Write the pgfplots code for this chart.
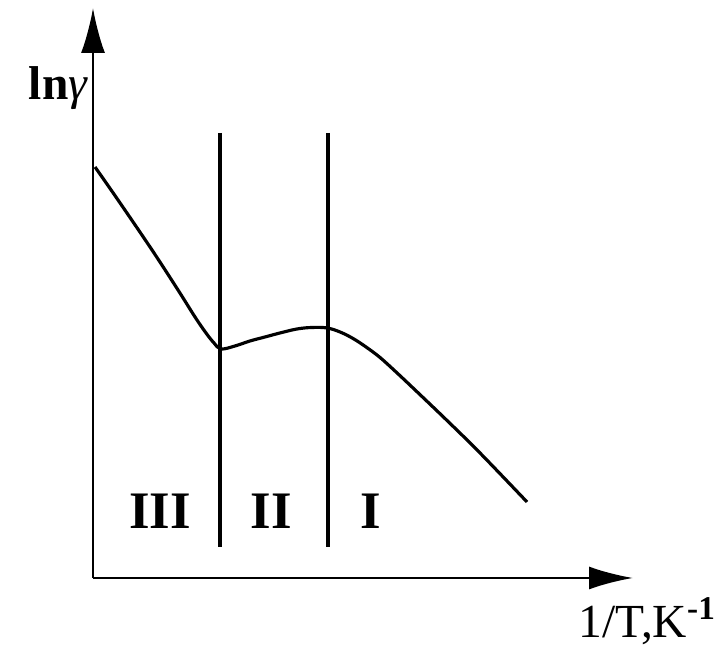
\documentclass[border=0pt]{standalone}
\usepackage{fontspec}
\setmainfont{Liberation Serif}
\usepackage{pgfplots}
\pgfplotsset{compat=1.18}
\usetikzlibrary{arrows.meta}

% temperature dependence of ln(gamma): three regions separated by two boundaries
\pgfplotstableread{
x    y
95   478
118  445
152  395
178  355
195  328
206  312
214  302
221  296
235  299
250  304
265  308
280  312
297  316
312  317.5
327  317
340  313
353  306.5
366  298
380  287.5
396  273
413  257
447  224.5
480  192
527  143
}\curve

\begin{document}
\begin{tikzpicture}
\useasboundingbox (0,0) rectangle (7.28cm,6.45cm);
\begin{axis}[
  width=7.28cm, height=6.45cm, scale only axis,
  xmin=0, xmax=728, ymin=0, ymax=645,
  hide axis, clip=false,
]
% axes with arrowheads
\addplot[line width=0.7pt, -{Latex[length=4.5mm,width=2.4mm]}] coordinates {(93,67) (93,637)};
\addplot[line width=0.7pt, -{Latex[length=4.4mm,width=2.3mm]}] coordinates {(93,67) (633,67)};
% region boundaries
\addplot[line width=0.9pt] coordinates {(220,512) (220,98)};
\addplot[line width=0.9pt] coordinates {(328,512) (328,98)};
% curve
\addplot[line width=0.9pt, smooth, tension=0.6] table[x=x,y=y] {\curve};
% labels
\node[anchor=base east, font=\fontsize{13.5}{15}\selectfont, inner sep=0pt] at (axis cs:89,545) {\textbf{ln}\textit{γ}};
\node[anchor=base west, font=\fontsize{13.5}{15}\selectfont, inner sep=0pt] at (axis cs:578,7) {1/T,K\textsuperscript{\textbf{-1}}};
\node[anchor=base, font=\bfseries\fontsize{15}{17}\selectfont, inner sep=0pt] at (axis cs:160,116) {III};
\node[anchor=base, font=\bfseries\fontsize{15}{17}\selectfont, inner sep=0pt] at (axis cs:271,116) {II};
\node[anchor=base, font=\bfseries\fontsize{15}{17}\selectfont, inner sep=0pt] at (axis cs:371,116) {I};
\end{axis}
\end{tikzpicture}
\end{document}
